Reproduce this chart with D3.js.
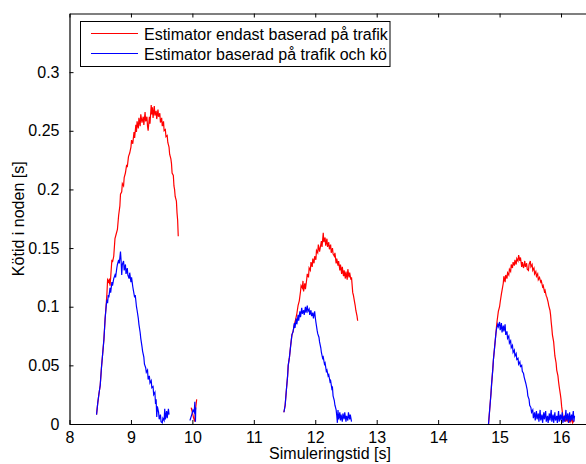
<!DOCTYPE html>
<html>
<head>
<meta charset="utf-8">
<script src="https://cdn.jsdelivr.net/npm/d3@7"></script>
<style>
  html, body { margin: 0; padding: 0; background: #fff; }
  svg { display: block; }
  text { font-family: "Liberation Sans", Arial, Helvetica, sans-serif; fill: #000; }
</style>
</head>
<body>
<svg id="chart" width="586" height="464"></svg>
<script>
// Queue delay per node [s] versus simulation time [s], two estimators.
const xTicks = [8, 9, 10, 11, 12, 13, 14, 15, 16];
const yTicks = [0, 0.05, 0.1, 0.15, 0.2, 0.25, 0.3];
const yTickLabels = ["0", "0.05", "0.1", "0.15", "0.2", "0.25", "0.3"];
const seriesNames = ["Estimator endast baserad på trafik", "Estimator baserad på trafik och kö"];
const seriesColors = ["#ff0000", "#0000ff"];

// Estimator based on traffic only: [time, delay]
const trafficOnly1 = [
  [8.44,0.008],[8.46,0.018],[8.48,0.026],[8.50,0.033],[8.52,0.048],[8.54,0.060],[8.56,0.072],[8.58,0.090],
  [8.60,0.104],[8.61,0.112],[8.62,0.123],[8.64,0.121],[8.65,0.124],[8.66,0.118],[8.67,0.125],[8.69,0.140],
  [8.70,0.138],[8.72,0.143],[8.74,0.158],[8.76,0.162],[8.78,0.166],[8.80,0.178],[8.82,0.186],[8.83,0.196],
  [8.85,0.198],[8.86,0.205],[8.88,0.203],[8.89,0.210],[8.91,0.214],[8.93,0.221],[8.94,0.219],[8.96,0.228],
  [8.98,0.231],[9.00,0.236],[9.01,0.242],[9.03,0.239],[9.05,0.249],[9.06,0.244],[9.08,0.255],[9.09,0.249],
  [9.10,0.258],[9.12,0.252],[9.13,0.261],[9.15,0.254],[9.16,0.264],[9.18,0.257],[9.20,0.262],[9.21,0.255],
  [9.23,0.266],[9.24,0.258],[9.26,0.262],[9.27,0.254],[9.28,0.250],[9.30,0.262],[9.31,0.256],[9.33,0.272],
  [9.34,0.264],[9.35,0.270],[9.36,0.261],[9.38,0.271],[9.39,0.263],[9.41,0.267],[9.42,0.260],[9.44,0.268],
  [9.45,0.262],[9.47,0.265],[9.48,0.257],[9.50,0.261],[9.51,0.254],[9.53,0.258],[9.54,0.250],[9.56,0.251],
  [9.57,0.245],[9.59,0.246],[9.60,0.240],[9.62,0.236],[9.63,0.230],[9.65,0.226],[9.66,0.222],[9.67,0.214],
  [9.69,0.212],[9.70,0.203],[9.71,0.200],[9.72,0.194],[9.74,0.190],[9.75,0.180],[9.76,0.174],[9.77,0.160]
];
const trafficOnly2 = [
  [9.98,0.014],[10.00,0.010],[10.02,0.005],[10.04,0.002],[10.05,0.012],[10.07,0.021]
];
const trafficOnly3 = [
  [11.49,0.010],[11.51,0.016],[11.53,0.029],[11.55,0.041],[11.56,0.050],[11.58,0.057],[11.60,0.067],[11.62,0.076],
  [11.64,0.079],[11.66,0.085],[11.68,0.089],[11.70,0.094],[11.72,0.101],[11.74,0.105],[11.76,0.113],[11.77,0.118],
  [11.79,0.116],[11.80,0.122],[11.81,0.113],[11.83,0.120],[11.84,0.115],[11.86,0.123],[11.87,0.128],[11.89,0.125],
  [11.90,0.133],[11.92,0.131],[11.93,0.138],[11.95,0.134],[11.96,0.141],[11.98,0.137],[11.99,0.143],[12.01,0.140],
  [12.02,0.148],[12.04,0.146],[12.05,0.153],[12.07,0.147],[12.08,0.150],[12.10,0.156],[12.11,0.151],[12.13,0.163],
  [12.14,0.155],[12.16,0.159],[12.17,0.152],[12.19,0.158],[12.20,0.151],[12.22,0.155],[12.23,0.149],[12.25,0.153],
  [12.26,0.146],[12.28,0.150],[12.29,0.145],[12.31,0.143],[12.32,0.146],[12.34,0.137],[12.35,0.141],[12.37,0.135],
  [12.38,0.139],[12.40,0.131],[12.41,0.136],[12.43,0.128],[12.44,0.134],[12.46,0.126],[12.47,0.131],[12.49,0.124],
  [12.50,0.130],[12.52,0.123],[12.53,0.132],[12.55,0.125],[12.56,0.129],[12.58,0.123],[12.59,0.125],[12.61,0.112],
  [12.62,0.110],[12.64,0.104],[12.65,0.101],[12.66,0.097],[12.68,0.092],[12.69,0.088]
];
const trafficOnly4 = [
  [14.82,0.000],[14.84,0.013],[14.86,0.026],[14.87,0.034],[14.89,0.047],[14.90,0.055],[14.92,0.066],[14.94,0.077],
  [14.95,0.083],[14.96,0.088],[14.98,0.096],[15.00,0.100],[15.01,0.104],[15.03,0.111],[15.04,0.114],[15.06,0.120],
  [15.07,0.126],[15.09,0.121],[15.10,0.127],[15.12,0.124],[15.13,0.129],[15.15,0.127],[15.16,0.132],[15.18,0.130],
  [15.19,0.136],[15.21,0.133],[15.22,0.138],[15.24,0.135],[15.25,0.140],[15.27,0.136],[15.28,0.141],[15.30,0.139],
  [15.31,0.144],[15.33,0.139],[15.34,0.142],[15.36,0.134],[15.37,0.138],[15.39,0.133],[15.41,0.139],[15.42,0.134],
  [15.44,0.137],[15.45,0.132],[15.47,0.131],[15.48,0.136],[15.50,0.139],[15.51,0.134],[15.53,0.136],[15.54,0.131],
  [15.56,0.133],[15.57,0.128],[15.59,0.130],[15.60,0.126],[15.62,0.128],[15.63,0.123],[15.65,0.125],[15.67,0.121],
  [15.68,0.122],[15.70,0.117],[15.71,0.118],[15.73,0.113],[15.74,0.114],[15.76,0.109],[15.77,0.108],[15.79,0.104],
  [15.80,0.101],[15.82,0.097],[15.83,0.093],[15.84,0.087],[15.85,0.082],[15.86,0.076],[15.88,0.070],[15.89,0.064],
  [15.90,0.058],[15.92,0.052],[15.93,0.046],[15.95,0.041],[15.96,0.036],[15.97,0.032],[15.99,0.025],[16.00,0.021],
  [16.01,0.015],[16.03,0.007],[16.04,0.004],[16.06,0.007],[16.07,0.002],[16.09,0.005],[16.10,0.002],[16.12,0.006],
  [16.13,0.001],[16.15,0.004],[16.16,0.002],[16.18,0.005],[16.19,0.001],[16.21,0.003]
];

// Estimator based on traffic and queue: [time, delay]
const trafficQueue1 = [
  [8.44,0.008],[8.46,0.018],[8.48,0.026],[8.50,0.033],[8.52,0.048],[8.54,0.060],[8.56,0.072],[8.58,0.090],
  [8.60,0.102],[8.61,0.106],[8.62,0.103],[8.63,0.110],[8.64,0.108],[8.66,0.116],[8.67,0.112],[8.69,0.121],
  [8.70,0.118],[8.72,0.124],[8.74,0.127],[8.75,0.125],[8.77,0.133],[8.78,0.136],[8.80,0.140],[8.81,0.137],
  [8.83,0.147],[8.84,0.139],[8.85,0.127],[8.86,0.136],[8.88,0.139],[8.89,0.131],[8.91,0.136],[8.92,0.128],
  [8.94,0.133],[8.95,0.127],[8.97,0.124],[8.98,0.129],[9.00,0.121],[9.01,0.125],[9.03,0.117],[9.04,0.114],
  [9.06,0.108],[9.07,0.110],[9.09,0.100],[9.10,0.097],[9.12,0.090],[9.13,0.085],[9.15,0.078],[9.16,0.073],
  [9.18,0.066],[9.19,0.062],[9.21,0.057],[9.22,0.051],[9.24,0.048],[9.25,0.044],[9.27,0.046],[9.28,0.038],
  [9.30,0.041],[9.31,0.035],[9.33,0.037],[9.34,0.031],[9.36,0.032],[9.37,0.025],[9.39,0.027],[9.40,0.017],
  [9.41,0.021],[9.42,0.006],[9.43,0.015],[9.45,0.010],[9.46,0.004],[9.48,0.008],[9.49,0.002],[9.51,0.001],
  [9.52,0.005],[9.54,0.003],[9.55,0.013],[9.56,0.004],[9.58,0.011],[9.59,0.005],[9.61,0.013],[9.62,0.008]
];
const trafficQueue2 = [
  [9.96,0.003],[9.99,0.008],[10.01,0.012],[10.03,0.010],[10.04,0.019],[10.05,0.002],[10.055,0.014]
];
const trafficQueue3 = [
  [11.49,0.010],[11.51,0.016],[11.53,0.029],[11.55,0.041],[11.56,0.050],[11.58,0.057],[11.60,0.067],[11.62,0.076],
  [11.64,0.079],[11.66,0.086],[11.67,0.082],[11.69,0.090],[11.70,0.085],[11.72,0.093],[11.73,0.088],[11.75,0.096],
  [11.76,0.091],[11.78,0.099],[11.79,0.094],[11.81,0.097],[11.82,0.093],[11.84,0.100],[11.85,0.095],[11.87,0.101],
  [11.88,0.096],[11.90,0.098],[11.91,0.093],[11.93,0.097],[11.94,0.092],[11.96,0.095],[11.97,0.090],[11.99,0.096],
  [12.00,0.091],[12.01,0.087],[12.03,0.080],[12.04,0.077],[12.06,0.074],[12.07,0.070],[12.09,0.065],[12.10,0.061],
  [12.12,0.056],[12.13,0.057],[12.15,0.051],[12.16,0.052],[12.18,0.045],[12.19,0.046],[12.21,0.041],[12.22,0.042],
  [12.24,0.036],[12.25,0.037],[12.27,0.030],[12.28,0.031],[12.29,0.024],[12.31,0.020],[12.32,0.016],[12.34,0.012],
  [12.35,0.007],[12.36,0.001],[12.37,0.012],[12.38,0.004],[12.40,0.010],[12.41,0.003],[12.42,0.008],[12.44,0.002],
  [12.45,0.009],[12.47,0.004],[12.48,0.010],[12.50,0.002],[12.51,0.007],[12.53,0.003],[12.54,0.010],[12.56,0.004],
  [12.57,0.008],[12.59,0.002]
];
const trafficQueue4 = [
  [14.82,0.000],[14.84,0.013],[14.86,0.026],[14.87,0.034],[14.89,0.047],[14.90,0.055],[14.92,0.066],[14.94,0.077],
  [14.95,0.081],[14.97,0.085],[14.98,0.083],[15.00,0.087],[15.01,0.080],[15.03,0.086],[15.04,0.078],[15.06,0.084],
  [15.07,0.079],[15.09,0.085],[15.10,0.076],[15.12,0.079],[15.13,0.073],[15.15,0.075],[15.16,0.069],[15.18,0.071],
  [15.19,0.065],[15.21,0.067],[15.22,0.061],[15.24,0.063],[15.25,0.058],[15.27,0.060],[15.28,0.055],[15.30,0.056],
  [15.31,0.051],[15.33,0.053],[15.34,0.049],[15.36,0.050],[15.37,0.045],[15.39,0.043],[15.40,0.040],[15.42,0.036],
  [15.43,0.034],[15.45,0.029],[15.46,0.024],[15.48,0.021],[15.49,0.016],[15.51,0.014],[15.52,0.010],[15.54,0.012],
  [15.55,0.005],[15.57,0.010],[15.58,0.003],[15.60,0.011],[15.61,0.004],[15.63,0.009],[15.64,0.002],[15.66,0.012],
  [15.67,0.003],[15.69,0.008],[15.70,0.001],[15.72,0.010],[15.73,0.004],[15.75,0.011],[15.76,0.002],[15.78,0.007],
  [15.79,0.001],[15.81,0.009],[15.82,0.003],[15.84,0.012],[15.85,0.002],[15.87,0.008],[15.88,0.001],[15.90,0.010],
  [15.91,0.003],[15.93,0.007],[15.94,0.001],[15.96,0.011],[15.97,0.002],[15.99,0.008],[16.00,0.003],[16.02,0.010],
  [16.03,0.001],[16.05,0.007],[16.06,0.002],[16.08,0.012],[16.09,0.003],[16.11,0.009],[16.12,0.001],[16.14,0.010],
  [16.15,0.002],[16.17,0.008],[16.18,0.003],[16.20,0.011],[16.21,0.002],[16.22,0.007]
];

const trafficOnly = [trafficOnly1, trafficOnly2, trafficOnly3, trafficOnly4];
const trafficQueue = [trafficQueue1, trafficQueue2, trafficQueue3, trafficQueue4];

// Axes frame: the right end of the x range lies just past the page edge
const plotLeft = 69.5, plotTop = 13.5, plotBottom = 424;
const xMin = 8, xMax = 16.5, yMax = 0.35;
const unitPx = 61.44;
const plotRight = plotLeft + (xMax - xMin) * unitPx;

const x = d3.scaleLinear().domain([xMin, xMax]).range([plotLeft, plotRight]);
const y = d3.scaleLinear().domain([0, yMax]).range([plotBottom, plotTop]);

const svg = d3.select("#chart");

svg.append("defs").append("clipPath").attr("id", "plotArea")
  .append("rect").attr("x", plotLeft).attr("y", plotTop)
  .attr("width", plotRight - plotLeft).attr("height", plotBottom - plotTop);

const line = d3.line().x(d => x(d[0])).y(d => y(d[1]));

const plot = svg.append("g").attr("clip-path", "url(#plotArea)");
[[trafficOnly, seriesColors[0]], [trafficQueue, seriesColors[1]]].forEach(([segs, col]) => {
  plot.selectAll(null).data(segs).enter().append("path")
    .attr("d", line)
    .attr("fill", "none")
    .attr("stroke", col)
    .attr("stroke-width", 1.2)
    .attr("stroke-linejoin", "miter");
});

// Bottom axis with inward ticks
const xAxis = d3.axisBottom(x).tickValues(xTicks).tickFormat(d3.format("d"))
  .tickSizeInner(-4).tickSizeOuter(0).tickPadding(8);
const gx = svg.append("g").attr("transform", `translate(0,${plotBottom})`).call(xAxis);
gx.selectAll("text").style("font-size", "16px");

// Top edge with inward ticks
const xAxisTop = d3.axisTop(x).tickValues(xTicks).tickFormat("").tickSizeInner(-4).tickSizeOuter(0);
svg.append("g").attr("transform", `translate(0,${plotTop})`).call(xAxisTop);

// Left axis with inward ticks
const yAxis = d3.axisLeft(y).tickValues(yTicks).tickFormat((d, i) => yTickLabels[i])
  .tickSizeInner(-4).tickSizeOuter(0).tickPadding(10);
const gy = svg.append("g").attr("transform", `translate(${plotLeft},0)`).call(yAxis);
gy.selectAll("text").style("font-size", "16px");

svg.selectAll(".domain").attr("stroke", "#000").attr("stroke-width", 1.2);
svg.selectAll(".tick line").attr("stroke", "#000");

// Axis titles
svg.append("text").attr("x", 330).attr("y", 459)
  .attr("text-anchor", "middle").style("font-size", "16px").text("Simuleringstid [s]");
svg.append("text").attr("transform", `translate(24,${(plotTop + plotBottom) / 2}) rotate(-90)`)
  .attr("text-anchor", "middle").style("font-size", "16px").text("Kötid i noden [s]");

// Legend
const legend = svg.append("g");
legend.append("rect").attr("x", 80.5).attr("y", 21.5).attr("width", 309.5).attr("height", 45)
  .attr("fill", "#fff").attr("stroke", "#000").attr("stroke-width", 1);
seriesNames.forEach((name, i) => {
  const ly = 33.5 + i * 20;
  legend.append("line").attr("x1", 91).attr("x2", 138).attr("y1", ly).attr("y2", ly)
    .attr("stroke", seriesColors[i]).attr("stroke-width", 1);
  legend.append("text").attr("x", 144).attr("y", ly + 6).style("font-size", "16px").text(name);
});
</script>
</body>
</html>
